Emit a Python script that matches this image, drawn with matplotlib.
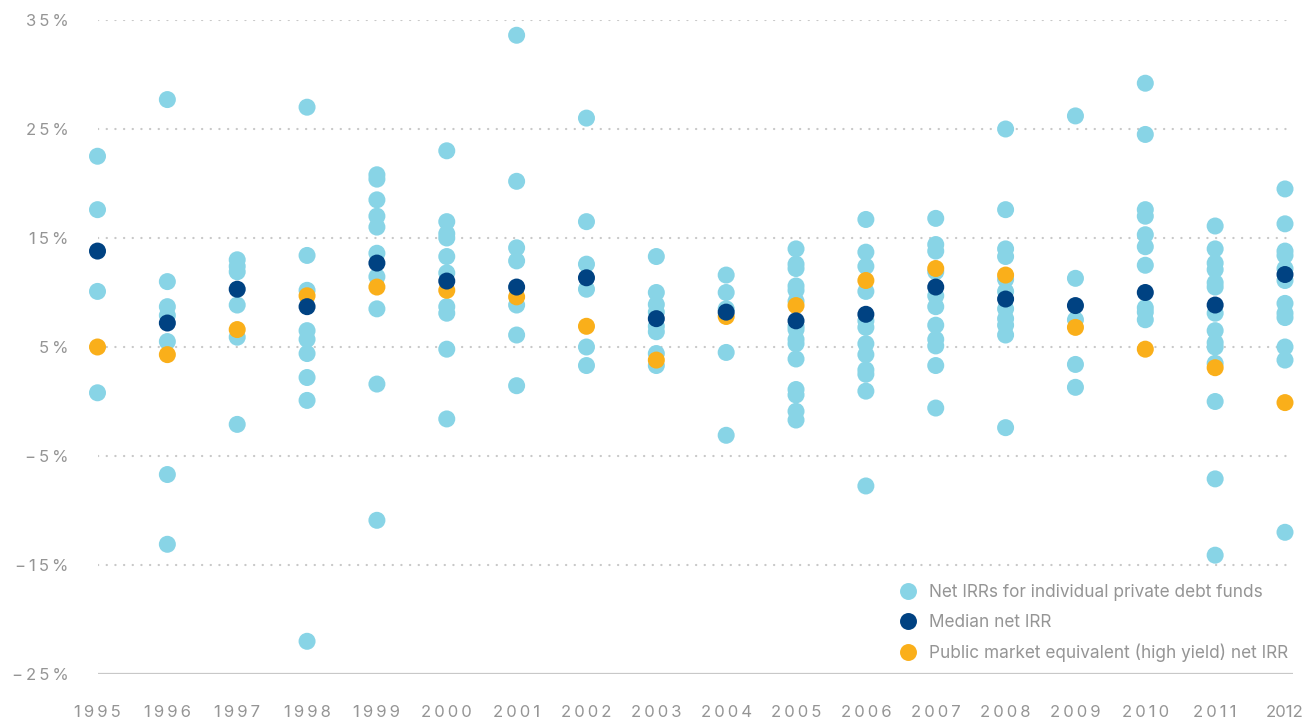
import matplotlib
matplotlib.use("Agg")
import matplotlib.pyplot as plt
from matplotlib.lines import Line2D

years = list(range(1995, 2013))

funds = {
    1995: [22.5, 17.6, 10.1, 0.8],
    1996: [27.7, 11.0, 8.7, 7.9, 5.5, -6.7, -13.1],
    1997: [13.0, 12.4, 11.9, 8.85, 5.9, -2.1],
    1998: [27.0, 13.4, 10.2, 6.5, 5.7, 4.4, 2.2, 0.1, -22.0],
    1999: [20.8, 20.4, 18.5, 17.0, 16.0, 13.6, 11.45, 8.5, 1.6, -10.9],
    2000: [23.0, 16.5, 15.4, 15.0, 13.3, 11.8, 8.7, 8.1, 4.8, -1.6],
    2001: [33.6, 20.2, 14.1, 12.9, 8.85, 6.1, 1.45],
    2002: [26.0, 16.5, 12.6, 10.3, 5.0, 3.3],
    2003: [13.3, 10.0, 8.9, 8.2, 6.9, 6.4, 4.4, 3.3],
    2004: [11.6, 10.0, 8.5, 4.5, -3.1],
    2005: [14.0, 12.6, 12.2, 10.6, 10.2, 9.2, 6.9, 6.6, 5.7, 5.3, 3.9, 1.1, 0.6, -0.9, -1.7],
    2006: [16.7, 13.7, 12.4, 10.1, 7.4, 6.8, 5.3, 4.3, 2.9, 2.5, 0.95, -7.75],
    2007: [16.8, 14.4, 13.8, 11.9, 9.7, 8.7, 7.0, 5.7, 5.1, 3.3, -0.6],
    2008: [25.0, 17.6, 14.0, 13.3, 11.2, 10.1, 8.5, 7.6, 7.0, 6.1, -2.4],
    2009: [26.2, 11.3, 7.5, 3.4, 1.3],
    2010: [29.2, 24.5, 17.6, 17.0, 15.3, 14.2, 12.5, 8.6, 8.2, 7.5],
    2011: [16.1, 14.0, 12.7, 12.1, 10.9, 10.5, 8.1, 6.5, 5.4, 5.0, 3.5, 0.0, -7.1, -14.1],
    2012: [19.5, 16.3, 13.8, 13.4, 12.2, 11.1, 9.0, 8.1, 7.7, 5.0, 3.8, -12.0],
}

median_irr = [13.8, 7.2, 10.3, 8.7, 12.7, 11.05, 10.5, 11.35, 7.6, 8.2,
              7.4, 8.0, 10.5, 9.4, 8.8, 10.0, 8.85, 11.65]
pme_irr = [5.0, 4.3, 6.6, 9.7, 10.5, 10.2, 9.6, 6.9, 3.8, 7.8,
           8.8, 11.1, 12.2, 11.6, 6.8, 4.8, 3.1, -0.1]

y_ticks = [35, 25, 15, 5, -5, -15, -25]
y_tick_labels = ["3\u20095\u2009%", "2\u20095\u2009%", "1\u20095\u2009%", "5\u2009%",
                 "\u2212\u20095\u2009%", "\u2212\u20091\u20095\u2009%", "\u2212\u20092\u20095\u2009%"]
x_tick_labels = ["\u2009".join(str(y)) for y in years[:-1]] + ["2012"]

legend_labels = ["Net IRRs for individual private debt funds",
                 "Median net IRR",
                 "Public market equivalent (high yield) net IRR"]

c_fund = "#88D4E6"
c_med = "#004282"
c_pme = "#FAAF1A"
c_text = "#959595"
c_grid = "#C8C8C8"

plt.rcParams['font.family'] = ['Inter', 'DejaVu Sans']

fig = plt.figure(figsize=(13.06, 7.21), dpi=100)
ax = fig.add_axes([97.5/1306, (721-674)/721, (1293-97.5)/1306, (674-20)/721])

ax.set_xlim(1995, 2012 + 8/69.9)
ax.set_ylim(-25, 35)

for v in y_ticks[:-1]:
    ax.axhline(v, color=c_grid, lw=1.6, linestyle=(0, (0.1, 3.8)),
               dash_capstyle='round', zorder=0)
ax.axhline(-25, color=c_grid, lw=1.6, zorder=0)

ms = 150
fx, fy = [], []
for yr in years:
    for v in funds[yr]:
        fx.append(yr)
        fy.append(v)
ax.scatter(fx, fy, s=ms, color=c_fund, edgecolors='none', zorder=2, clip_on=False)
ax.scatter(years, pme_irr, s=ms, color=c_pme, edgecolors='none', zorder=3, clip_on=False)
ax.scatter(years, median_irr, s=ms, color=c_med, edgecolors='none', zorder=4, clip_on=False)

for s in ax.spines.values():
    s.set_visible(False)

ax.set_yticks(y_ticks)
ax.set_yticklabels(y_tick_labels)
ax.set_xticks(years)
ax.set_xticklabels(x_tick_labels)
ax.tick_params(axis='y', length=0, pad=21, labelsize=12, labelcolor=c_text)
ax.tick_params(axis='x', length=0, pad=22, labelsize=12, labelcolor=c_text)

handles = [Line2D([], [], marker='o', linestyle='none', markersize=12.2,
                  markerfacecolor=c, markeredgecolor='none')
           for c in (c_fund, c_med, c_pme)]
leg = ax.legend(handles, legend_labels, loc='upper left',
                bbox_to_anchor=(901/1306, (721-584)/721), bbox_transform=fig.transFigure,
                frameon=False, fontsize=12.4, labelcolor=c_text,
                handlelength=0.8, handletextpad=0.84, labelspacing=0.73,
                borderpad=0, borderaxespad=0)

fig.savefig("out.png", dpi=100, facecolor="white")
